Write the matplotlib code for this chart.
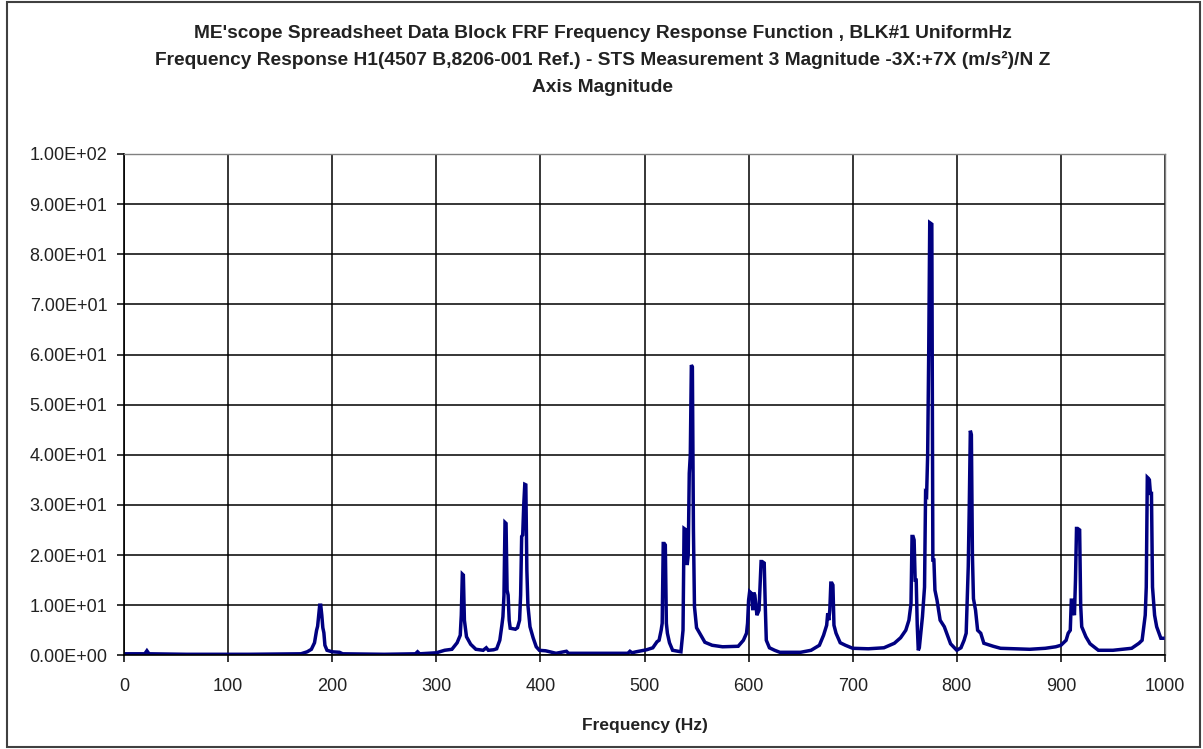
import matplotlib
matplotlib.use("Agg")
import matplotlib.pyplot as plt
from matplotlib.patches import Rectangle
from matplotlib.ticker import FuncFormatter, MultipleLocator

# Frequency response magnitude
freq_hz = [
    0, 20, 22, 24, 60, 120, 170, 176, 180, 183, 185, 186, 187, 188, 189, 190,
    191, 192, 193, 195, 200, 207, 210, 250, 280, 282, 284, 300, 308, 315, 320,
    323, 324, 325, 326, 327, 329, 333, 338, 345, 348, 350, 355, 358, 361, 363,
    364, 365, 366, 367, 368, 369, 370, 371, 376, 378, 380, 381, 382, 383, 384,
    385, 386, 387, 388, 390, 393, 396, 399, 405, 415, 425, 427, 484, 486, 488,
    492, 502, 508, 512, 514, 516, 517, 518, 519, 520, 521, 522, 524, 527, 535,
    537, 538, 540, 541, 542, 543, 544, 545, 546, 547, 548, 550, 553, 558, 565,
    575, 590, 595, 598, 599, 600, 601, 603, 604, 605, 606, 608, 610, 612, 613,
    615, 616, 617, 620, 625, 630, 650, 660, 668, 672, 675, 676, 677, 678, 679,
    680, 681, 682, 684, 688, 693, 700, 715, 730, 740, 746, 751, 754, 756, 757,
    758, 759, 760, 761, 762, 763, 764, 767, 769, 770, 771, 772, 773, 774, 776,
    777, 778, 779, 781, 784, 788, 794, 800, 804, 807, 809, 810, 811, 812, 813,
    814, 815, 816, 818, 820, 823, 826, 835, 842, 870, 885, 895, 900, 905, 907,
    909, 910, 911, 912, 913, 914, 915, 916, 918, 919, 920, 924, 928, 936, 950,
    968, 975, 978, 981, 982, 983, 984, 985, 986, 987, 988, 990, 992, 996, 1000,
]
magnitude = [
    0.3, 0.3, 0.9, 0.3, 0.2, 0.2, 0.3, 0.7, 1.2, 2.5, 5.0, 5.8, 8.0, 10.0, 10.0, 8.0,
    5.5, 4.5, 2.0, 1.0, 0.7, 0.6, 0.3, 0.2, 0.3, 0.7, 0.3, 0.5, 1.0, 1.2, 2.5,
    4.0, 8.0, 16.2, 16.0, 7.0, 3.7, 2.2, 1.2, 1.0, 1.5, 1.0, 1.1, 1.3, 3.0, 6.0,
    7.7, 12.0, 26.5, 26.3, 13.0, 12.0, 7.0, 5.4, 5.2, 5.5, 7.0, 12.0, 23.7, 24.0, 30.0,
    34.1, 34.0, 17.0, 10.0, 5.7, 3.5, 1.7, 1.0, 0.9, 0.4, 0.8, 0.4, 0.4, 0.8, 0.5,
    0.7, 1.1, 1.5, 2.7, 3.0, 5.0, 6.4, 22.3, 22.3, 22.0, 6.4, 4.4, 2.5, 1.0, 0.7,
    5.0, 25.3, 25.0, 18.0, 20.0, 36.3, 40.0, 57.9, 57.5, 25.0, 9.7, 5.5, 4.4, 2.6, 2.0,
    1.7, 1.8, 3.0, 4.4, 6.4, 11.0, 12.7, 12.3, 9.0, 12.5, 12.0, 8.0, 9.0, 18.7, 18.7,
    18.4, 10.0, 3.0, 1.5, 1.0, 0.6, 0.6, 1.0, 2.0, 4.0, 6.0, 8.4, 7.0, 9.0, 14.4,
    14.4, 14.0, 6.0, 4.4, 2.5, 2.0, 1.4, 1.3, 1.5, 2.4, 3.5, 5.0, 7.0, 10.3, 23.7,
    23.7, 23.0, 15.0, 15.0, 6.0, 1.0, 1.5, 7.7, 13.6, 32.3, 32.0, 40.0, 60.0, 86.3, 86.0,
    19.0, 19.0, 13.0, 11.0, 7.0, 5.7, 2.3, 1.0, 1.5, 3.0, 4.4, 11.3, 17.7, 30.0, 44.8,
    44.0, 20.0, 11.3, 9.0, 5.0, 4.4, 2.4, 1.8, 1.4, 1.2, 1.4, 1.7, 2.0, 3.0, 4.4,
    5.0, 11.0, 11.0, 9.0, 8.0, 15.0, 25.3, 25.3, 25.0, 10.0, 5.7, 3.7, 2.3, 1.0, 1.0,
    1.4, 2.4, 3.0, 8.0, 13.6, 35.5, 35.3, 35.0, 32.3, 32.3, 13.6, 8.0, 5.7, 3.4, 3.4,
]

title_lines = [
    "ME'scope Spreadsheet Data Block FRF Frequency Response Function , BLK#1 UniformHz",
    "Frequency Response H1(4507 B,8206-001 Ref.) - STS Measurement 3 Magnitude -3X:+7X (m/s\u00b2)/N Z",
    "Axis Magnitude",
]

plt.rcParams['font.family'] = ['Liberation Sans', 'DejaVu Sans']

W, H = 1203, 749
fig = plt.figure(figsize=(W / 100, H / 100), dpi=100)
fig.patch.set_facecolor('white')

# outer chart border
fig.patches.append(Rectangle((7 / W, 1 - 747 / H), 1193 / W, 745 / H,
                             transform=fig.transFigure, fill=False,
                             edgecolor='#404040', linewidth=1.5))

ax = fig.add_axes([124 / W, 1 - 655.3 / H, (1165 - 124) / W, (655.3 - 154) / H])
ax.plot(freq_hz, magnitude, color='#000080', linewidth=2.5, solid_joinstyle='miter')

ax.set_xlim(0, 1000)
ax.set_ylim(0, 100)
ax.xaxis.set_major_locator(MultipleLocator(100))
ax.yaxis.set_major_locator(MultipleLocator(10))
ax.yaxis.set_major_formatter(FuncFormatter(lambda v, p: f"{v:.2E}"))
ax.grid(True, color='black', linewidth=1.1)
ax.set_axisbelow(True)

for s in ['top', 'right']:
    ax.spines[s].set_color('#808080')
    ax.spines[s].set_linewidth(1)
for s in ['left', 'bottom']:
    ax.spines[s].set_color('black')
    ax.spines[s].set_linewidth(1.2)

ax.tick_params(axis='both', direction='out', length=5, width=1.1, colors='black',
               labelsize=13, labelcolor='#222222')
ax.tick_params(axis='x', pad=11)
ax.tick_params(axis='y', pad=7)

ax.set_xlabel('Frequency (Hz)', fontsize=12.5, fontweight='bold', color='#222222')
ax.xaxis.set_label_coords(0.5, -0.125)

for y_px, line in zip([33, 60, 87], title_lines):
    fig.text(603 / W, 1 - y_px / H, line, ha='center', va='center',
             fontsize=13.8, fontweight='bold', color='#222222')

fig.savefig('out.png', dpi=100, facecolor='white')
